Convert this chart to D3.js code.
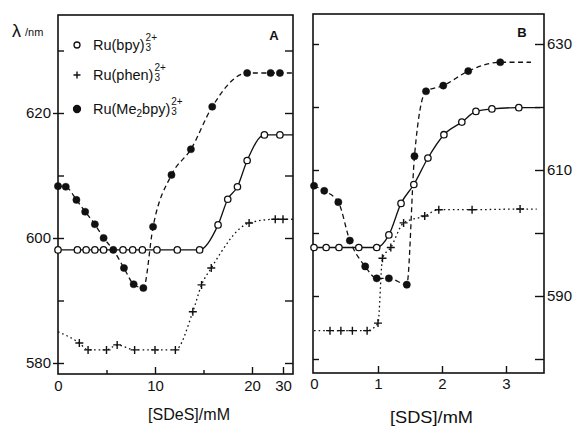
<!DOCTYPE html>
<html>
<head>
<meta charset="utf-8">
<script src="https://cdn.jsdelivr.net/npm/d3@7"></script>
<style>
  body { margin: 0; background: #fff; }
  text { font-family: "Liberation Sans", Arial, sans-serif; fill: #111; }
</style>
</head>
<body>
<div id="chart"></div>
<script>
// panel A: [SDeS] (mM), wavelength (nm)
const aBpyX = [0, 2.0, 2.9, 3.8, 4.7, 6.7, 7.7, 8.7, 10.2, 12.3, 14.6, 16.5, 17.5, 18.5, 19.5, 24, 29];
const aBpyY = [598.1, 598.1, 598.1, 598.1, 598.1, 598.1, 598.1, 598.1, 598.1, 598.1, 598.1, 602.1, 606.2, 608.2, 612.4, 616.5, 616.5];
const aPhenX = [2.2, 3.1, 5.0, 6.1, 7.9, 10, 12.1, 13.9, 14.8, 15.8, 19.7, 27.5, 30];
const aPhenY = [583.2, 582.1, 582.1, 582.9, 582.1, 582.1, 582.1, 588.2, 592.5, 595.2, 602.4, 603.0, 603.0];
const aPhenStart = [0, 585];
const aMeX = [0, 0.8, 1.9, 2.8, 3.8, 4.7, 5.7, 6.8, 7.8, 8.8, 9.8, 11.7, 13.7, 15.9, 19.5, 26, 29];
const aMeY = [608.3, 608.2, 606.1, 604.2, 602.2, 600.0, 598.1, 595.2, 592.6, 592.0, 601.8, 610.1, 614.2, 621.0, 626.4, 626.4, 626.4];
const aLineEndX = 33.2;

// panel B: [SDS] (mM), wavelength (nm)
const bBpyX = [0, 0.19, 0.39, 0.7, 0.98, 1.17, 1.36, 1.56, 1.78, 2.03, 2.31, 2.53, 2.78, 3.2];
const bBpyY = [597.7, 597.7, 597.7, 597.7, 597.7, 599.7, 604.7, 607.7, 611.9, 615.6, 617.6, 619.3, 619.7, 619.9];
const bBpyEndX = 3.53;
const bPhenX = [0.25, 0.42, 0.6, 0.83, 1.0, 1.07, 1.2, 1.4, 1.73, 1.95, 2.47, 3.22];
const bPhenY = [584.5, 584.5, 584.5, 584.5, 585.7, 596.0, 597.7, 601.6, 602.7, 603.7, 603.7, 603.8];
const bPhenStart = [0, 584.5];
const bPhenEndX = 3.48;
const bMeX = [0, 0.16, 0.38, 0.56, 0.8, 0.98, 1.17, 1.45, 1.57, 1.75, 2.02, 2.41, 2.91];
const bMeY = [607.5, 606.7, 604.9, 598.8, 594.7, 592.8, 592.8, 591.8, 612.2, 622.5, 623.4, 625.7, 627.1];
const bMeEndX = 3.39;

// ticks
const aYLabels = [580, 600, 620];
const aYTicks = [580, 590, 600, 610, 620, 630];
const aXLabels = [0, 10, 20, 30];
const aXMajor = [10, 20, 30];
const aXMinor = [5, 15];
const bYLabels = [590, 610, 630];
const bYTicks = [580, 590, 600, 610, 620, 630];
const bXLabels = [0, 1, 2, 3];

const legendNames = ['Ru(bpy)', 'Ru(phen)', 'Ru(Me2bpy)'];

const width = 579, height = 428;
const svg = d3.select('#chart').append('svg')
  .attr('width', width).attr('height', height);
svg.append('rect').attr('width', width).attr('height', height).attr('fill', '#fff');

const ink = '#111';

// scales (panel A x axis is broken after 20)
const xA = d3.scaleLinear().domain([0, 20, 30, 33.2]).range([58, 252, 283, 293]);
const yA = d3.scaleLinear().domain([580, 620]).range([363, 113]);
const xB = d3.scaleLinear().domain([0, 3]).range([314, 506]);
const yB = d3.scaleLinear().domain([590, 630]).range([296, 44]);

const frameA = { x0: 58, x1: 293, y0: 15, y1: 374 };
const frameB = { x0: 313, x1: 544, y0: 14, y1: 373 };

function styleAxis(g, fontSize) {
  g.select('.domain').remove();
  g.selectAll('line').attr('stroke', ink).attr('stroke-width', 1.4);
  g.selectAll('text').attr('font-size', fontSize).attr('fill', ink)
    .attr('font-family', '"Liberation Sans", Arial, sans-serif');
}

function addAxis(axis, tx, ty, fontSize) {
  const g = svg.append('g').attr('transform', `translate(${tx},${ty})`).call(axis);
  styleAxis(g, fontSize || 15);
  return g;
}

const fmt = d3.format('d');

// ---- panel A axes
addAxis(d3.axisLeft(yA).tickValues(aYLabels).tickSize(5).tickPadding(2).tickFormat(fmt), frameA.x0, 0);
addAxis(d3.axisRight(yA).tickValues(aYTicks).tickSize(6).tickFormat(''), frameA.x0, 0);
addAxis(d3.axisLeft(yA).tickValues(aYTicks).tickSize(8).tickFormat(''), frameA.x1, 0);
addAxis(d3.axisTop(xA).tickValues(aXMajor).tickSize(7).tickFormat(''), 0, frameA.y1);
addAxis(d3.axisTop(xA).tickValues(aXMinor).tickSize(4).tickFormat(''), 0, frameA.y1);
addAxis(d3.axisBottom(xA).tickValues(aXLabels).tickSize(0).tickPadding(6).tickFormat(fmt), 0, frameA.y1);

// ---- panel B axes
addAxis(d3.axisRight(yB).tickValues(bYTicks).tickSize(6).tickFormat(''), frameB.x0, 0);
addAxis(d3.axisLeft(yB).tickValues(bYTicks).tickSize(9).tickFormat(''), frameB.x1, 0);
addAxis(d3.axisRight(yB).tickValues(bYLabels).tickSize(0).tickPadding(3).tickFormat(fmt), frameB.x1, 0);
addAxis(d3.axisTop(xB).tickValues([1, 2, 3]).tickSize(7).tickFormat(''), 0, frameB.y1);
addAxis(d3.axisBottom(xB).tickValues(bXLabels).tickSize(0).tickPadding(5).tickFormat(fmt), 0, frameB.y1);

// frames
[frameA, frameB].forEach(f => {
  svg.append('rect')
    .attr('x', f.x0).attr('y', f.y0)
    .attr('width', f.x1 - f.x0).attr('height', f.y1 - f.y0)
    .attr('fill', 'none').attr('stroke', ink).attr('stroke-width', 1.6);
});

// ---- series
function pts(xs, ys) { return xs.map((x, i) => [x, ys[i]]); }

function drawLine(x, y, data, dash) {
  svg.append('path')
    .datum(data)
    .attr('fill', 'none')
    .attr('stroke', ink)
    .attr('stroke-width', 1.3)
    .attr('stroke-dasharray', dash)
    .attr('d', d3.line().x(d => x(d[0])).y(d => y(d[1])).curve(d3.curveMonotoneX));
}

function drawMarks(x, y, data, kind) {
  const g = svg.append('g');
  if (kind === 'plus') {
    g.selectAll('path').data(data).join('path')
      .attr('transform', d => `translate(${x(d[0])},${y(d[1])})`)
      .attr('d', 'M-4,0H4M0,-4V4')
      .attr('stroke', ink).attr('stroke-width', 1.4);
  } else {
    g.selectAll('circle').data(data).join('circle')
      .attr('cx', d => x(d[0])).attr('cy', d => y(d[1]))
      .attr('r', kind === 'open' ? 3.2 : 3.6)
      .attr('fill', kind === 'open' ? '#fff' : ink)
      .attr('stroke', ink).attr('stroke-width', kind === 'open' ? 1.3 : 0.5);
  }
}

const dashMe = '5,3.5';
const dashPhen = '1.6,3';

// panel A
const aBpy = pts(aBpyX, aBpyY);
const aPhen = pts(aPhenX, aPhenY);
const aMe = pts(aMeX, aMeY);
drawLine(xA, yA, [...aMe, [aLineEndX, aMe[aMe.length - 1][1]]], dashMe);
drawLine(xA, yA, [aPhenStart, ...aPhen, [aLineEndX, aPhen[aPhen.length - 1][1]]], dashPhen);
drawLine(xA, yA, [...aBpy, [aLineEndX, aBpy[aBpy.length - 1][1]]], null);
drawMarks(xA, yA, aMe, 'filled');
drawMarks(xA, yA, aPhen, 'plus');
drawMarks(xA, yA, aBpy, 'open');

// panel B
const bBpy = pts(bBpyX, bBpyY);
const bPhen = pts(bPhenX, bPhenY);
const bMe = pts(bMeX, bMeY);
drawLine(xB, yB, [...bMe, [bMeEndX, bMe[bMe.length - 1][1]]], dashMe);
drawLine(xB, yB, [bPhenStart, ...bPhen, [bPhenEndX, bPhen[bPhen.length - 1][1]]], dashPhen);
drawLine(xB, yB, [...bBpy, [bBpyEndX, bBpy[bBpy.length - 1][1]]], null);
drawMarks(xB, yB, bMe, 'filled');
drawMarks(xB, yB, bPhen, 'plus');
drawMarks(xB, yB, bBpy, 'open');

// ---- legend
const legendKinds = ['open', 'plus', 'filled'];
const legendBase = [50, 80, 114];
legendNames.forEach((name, i) => {
  const by = legendBase[i];
  const mx = 77, my = by - 5;
  if (legendKinds[i] === 'plus') {
    svg.append('path').attr('d', `M${mx - 3.5},${my}H${mx + 3.5}M${mx},${my - 3.5}V${my + 3.5}`)
      .attr('stroke', ink).attr('stroke-width', 1.4);
  } else {
    svg.append('circle').attr('cx', mx).attr('cy', my)
      .attr('r', legendKinds[i] === 'open' ? 3 : 3.5)
      .attr('fill', legendKinds[i] === 'open' ? '#fff' : ink)
      .attr('stroke', ink).attr('stroke-width', 1.3);
  }
  const t = svg.append('text').attr('x', 93).attr('y', by).attr('font-size', 14.5);
  name.split(/(\d)/).filter(s => s).forEach(part => {
    if (/^\d$/.test(part)) {
      t.append('tspan').attr('font-size', 10).attr('dy', 3).text(part);
    } else {
      const s = t.append('tspan').text(part);
      if (t.selectAll('tspan').size() > 1) s.attr('dy', -3);
    }
  });
  const w = t.node().getComputedTextLength();
  svg.append('text').attr('x', 93 + w + 1).attr('y', by + 1).attr('font-size', 10).text('3');
  svg.append('text').attr('x', 93 + w + 1).attr('y', by - 9).attr('font-size', 10).text('2+');
});

// ---- labels
svg.append('text').attr('x', 12).attr('y', 37).attr('font-size', 18).text('λ');
svg.append('text').attr('x', 25).attr('y', 36).attr('font-size', 11).text('/nm');
svg.append('text').attr('x', 274).attr('y', 40).attr('font-size', 13)
  .attr('text-anchor', 'middle').attr('font-weight', 'bold').text('A');
svg.append('text').attr('x', 522).attr('y', 37).attr('font-size', 13)
  .attr('text-anchor', 'middle').attr('font-weight', 'bold').text('B');

svg.append('text').attr('x', 148).attr('y', 420).attr('font-size', 17)
  .attr('textLength', 82).attr('lengthAdjust', 'spacingAndGlyphs').text('[SDeS]/mM');
svg.append('text').attr('x', 390).attr('y', 423).attr('font-size', 17)
  .attr('textLength', 83).attr('lengthAdjust', 'spacingAndGlyphs').text('[SDS]/mM');
</script>
</body>
</html>
